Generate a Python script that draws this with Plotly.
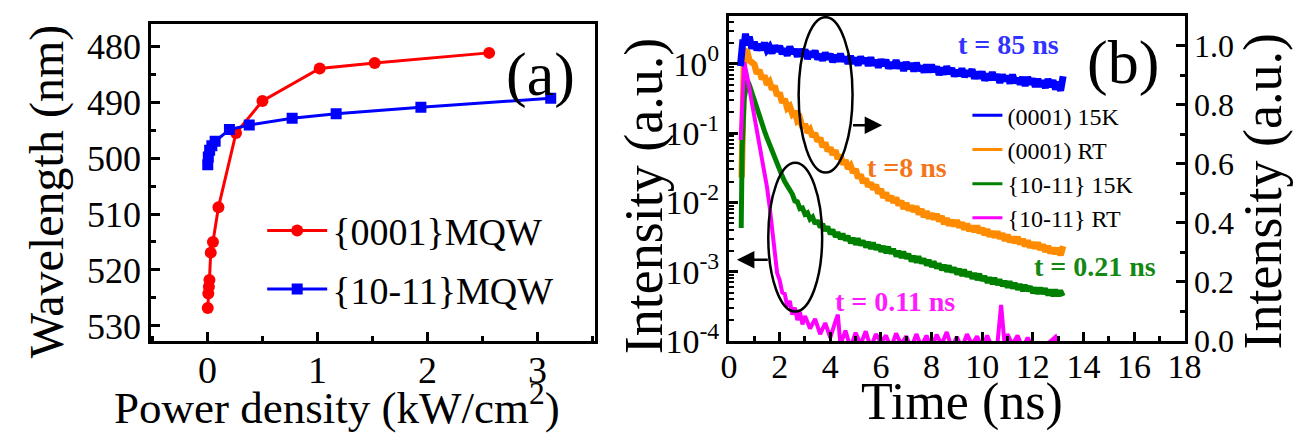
import plotly.graph_objects as go

W, H = 1304, 442

# ---------------- Panel (a): emission wavelength vs power density ----------------
RED_P = [0.003, 0.008, 0.013, 0.018, 0.03, 0.05, 0.1, 0.26, 0.5, 1.02, 1.52, 2.56]
RED_W = [526.8, 524.2, 523.0, 521.8, 516.9, 515.0, 508.8, 495.5, 489.8, 484.0, 483.0, 481.2]
BLUE_P = [0.003, 0.008, 0.02, 0.04, 0.07, 0.2, 0.38, 0.77, 1.17, 1.94, 3.12]
BLUE_W = [501.2, 499.8, 498.6, 497.8, 497.0, 494.9, 494.1, 492.9, 492.1, 490.9, 489.3]

# ---------------- Panel (b): time-resolved PL ----------------
T_GRID = [1.0, 1.1, 1.2, 1.3, 1.4, 1.5, 1.6, 1.7, 1.8, 1.9,
          2.0, 2.1, 2.2, 2.3, 2.4, 2.5, 2.6, 2.7, 2.8, 2.9,
          3.0, 3.1, 3.2, 3.3, 3.4, 3.5, 3.6, 3.7, 3.8, 3.9,
          4.0, 4.1, 4.2, 4.3, 4.4, 4.5, 4.6, 4.7, 4.8, 4.9,
          5.0, 5.1, 5.2, 5.3, 5.4, 5.5, 5.6, 5.7, 5.8, 5.9,
          6.0, 6.1, 6.2, 6.3, 6.4, 6.5, 6.6, 6.7, 6.8, 6.9,
          7.0, 7.1, 7.2, 7.3, 7.4, 7.5, 7.6, 7.7, 7.8, 7.9,
          8.0, 8.1, 8.2, 8.3, 8.4, 8.5, 8.6, 8.7, 8.8, 8.9,
          9.0, 9.1, 9.2, 9.3, 9.4, 9.5, 9.6, 9.7, 9.8, 9.9,
          10.0, 10.1, 10.2, 10.3, 10.4, 10.5, 10.6, 10.7, 10.8, 10.9,
          11.0, 11.1, 11.2, 11.3, 11.4, 11.5, 11.6, 11.7, 11.8, 11.9,
          12.0, 12.1, 12.2, 12.3, 12.4, 12.5, 12.6, 12.7, 12.8, 12.9,
          13.0, 13.1, 13.2]

# (0001) 15K  -> right (linear) axis
C15_T = [0.45, 0.5, 0.55, 0.6, 0.65, 0.7, 0.8, 0.9] + T_GRID
C15_I = [0.93, 0.98, 1.02, 1.00, 1.04, 1.01, 1.03, 0.99,
         1.012, 0.985, 1.003, 0.986, 1.009, 0.985, 0.995, 0.974, 0.999, 0.981,
         0.998, 0.972, 0.989, 0.966, 0.996, 0.974, 0.986, 0.963, 0.987, 0.965,
         0.986, 0.955, 0.978, 0.962, 0.982, 0.954, 0.970, 0.950, 0.975, 0.955,
         0.971, 0.944, 0.967, 0.947, 0.972, 0.947, 0.960, 0.939, 0.964, 0.940,
         0.958, 0.933, 0.962, 0.941, 0.956, 0.932, 0.959, 0.934, 0.949, 0.926,
         0.952, 0.932, 0.951, 0.923, 0.942, 0.924, 0.950, 0.923, 0.941, 0.915,
         0.943, 0.923, 0.939, 0.913, 0.941, 0.916, 0.929, 0.910, 0.934, 0.910,
         0.934, 0.912, 0.928, 0.901, 0.924, 0.903, 0.929, 0.905, 0.923, 0.896,
         0.916, 0.898, 0.922, 0.894, 0.914, 0.898, 0.919, 0.888, 0.910, 0.890,
         0.911, 0.882, 0.903, 0.884, 0.909, 0.885, 0.902, 0.874, 0.901, 0.881,
         0.896, 0.872, 0.901, 0.874, 0.889, 0.869, 0.893, 0.864, 0.893, 0.870,
         0.887, 0.861, 0.886, 0.862, 0.881, 0.857, 0.886, 0.861, 0.882, 0.852,
         0.877, 0.847, 0.896]

# (0001) RT -> left (log) axis
CRT_T = [0.5, 0.55, 0.6, 0.65, 0.7, 0.8, 0.9] + T_GRID
CRT_I = [0.0229, 0.251, 1.66, 1.32, 1.58, 1.12, 1.05,
         0.977, 0.724, 0.813, 0.603, 0.676, 0.501, 0.550, 0.427, 0.479, 0.347,
         0.380, 0.275, 0.309, 0.229, 0.245, 0.191, 0.209, 0.151, 0.162, 0.120,
         0.135, 0.102, 0.112, 0.0891, 0.100, 0.0759, 0.0851, 0.0631, 0.0724, 0.0550,
         0.0617, 0.0490, 0.0562, 0.0427, 0.0479, 0.0355, 0.0407, 0.0309, 0.0339, 0.0269,
         0.0302, 0.0224, 0.0251, 0.0191, 0.0219, 0.0170, 0.0191, 0.0155, 0.0178, 0.0135,
         0.0155, 0.0117, 0.0138, 0.0107, 0.0123, 0.0100, 0.0117, 0.00912, 0.0105, 0.00813,
         0.00977, 0.00776, 0.00891, 0.00741, 0.00871, 0.00676, 0.00794, 0.00617, 0.00741, 0.00589,
         0.00692, 0.00575, 0.00676, 0.00537, 0.00631, 0.00490, 0.00589, 0.00468, 0.00550, 0.00457,
         0.00550, 0.00437, 0.00513, 0.00407, 0.00490, 0.00389, 0.00457, 0.00380, 0.00457, 0.00363,
         0.00427, 0.00339, 0.00407, 0.00324, 0.00380, 0.00316, 0.00380, 0.00302, 0.00355, 0.00282,
         0.00339, 0.00269, 0.00316, 0.00263, 0.00316, 0.00251, 0.00295, 0.00234, 0.00282, 0.00224,
         0.00263, 0.00219, 0.00263, 0.00209, 0.00245, 0.00195, 0.00234, 0.00186, 0.00219, 0.00182,
         0.00219, 0.00174, 0.00234]

# {10-11} 15K -> left (log) axis
S15_T = [0.48, 0.52, 0.6, 0.72, 0.8, 0.9] + T_GRID
S15_I = [0.00427, 0.0631, 0.316, 0.575, 0.501, 0.380,
         0.282, 0.224, 0.174, 0.135, 0.107, 0.0851, 0.0676, 0.0537, 0.0427, 0.0347,
         0.0288, 0.0240, 0.0200, 0.0174, 0.0141, 0.0132, 0.0105, 0.0102, 0.00813, 0.00832,
         0.00676, 0.00708, 0.00575, 0.00617, 0.00490, 0.00550, 0.00437, 0.00490, 0.00389, 0.00447,
         0.00347, 0.00407, 0.00316, 0.00372, 0.00295, 0.00355, 0.00282, 0.00331, 0.00257, 0.00309,
         0.00245, 0.00302, 0.00240, 0.00282, 0.00224, 0.00269, 0.00214, 0.00263, 0.00209, 0.00245,
         0.00195, 0.00234, 0.00186, 0.00229, 0.00182, 0.00214, 0.00166, 0.00200, 0.00158, 0.00195,
         0.00155, 0.00182, 0.00141, 0.00170, 0.00135, 0.00166, 0.00132, 0.00155, 0.00123, 0.00148,
         0.00117, 0.00141, 0.00112, 0.00132, 0.00105, 0.00126, 0.00100, 0.00123, 0.000977, 0.00115,
         0.000912, 0.00110, 0.000871, 0.00107, 0.000851, 0.00100, 0.000794, 0.000955, 0.000759, 0.000933,
         0.000741, 0.000871, 0.000692, 0.000832, 0.000661, 0.000813, 0.000646, 0.000776, 0.000617, 0.000741,
         0.000589, 0.000724, 0.000575, 0.000692, 0.000550, 0.000661, 0.000525, 0.000646, 0.000525, 0.000617,
         0.000490, 0.000589, 0.000479, 0.000589, 0.000479, 0.000575, 0.000457, 0.000550, 0.000447, 0.000550,
         0.000447, 0.000537, 0.000447]

# {10-11} RT -> left (log) axis
SRT_T = [0.46, 0.52, 0.6, 0.7, 0.8, 0.9, 1.0, 1.1, 1.2, 1.3,
         1.4, 1.5, 1.6, 1.7, 1.8, 1.9, 2.0, 2.1, 2.2, 2.3,
         2.4, 2.5, 2.6, 2.7, 2.8, 2.9, 3.0, 3.2, 3.4, 3.6,
         3.8, 4.0, 4.2, 4.3, 4.4, 4.6, 4.8, 5.0, 5.2, 5.4,
         5.6, 5.8, 6.0, 6.2, 6.4, 6.6, 6.8, 7.0, 7.2, 7.4,
         7.6, 7.8, 8.0, 8.2, 8.4, 8.6, 8.8, 9.0, 9.2, 9.4,
         9.6, 9.8, 10.0, 10.2, 10.4, 10.6, 10.75, 10.9, 11.0, 11.2,
         11.4, 11.6, 11.8, 12.0, 12.4, 12.9, 13.1]
SRT_I = [0.0794, 0.355, 1.05, 0.708, 0.447, 0.275, 0.178, 0.117, 0.0759, 0.0479,
         0.0282, 0.0166, 0.00891, 0.00398, 0.00191, 0.000955, 0.000759, 0.000501, 0.000479, 0.000316,
         0.000380, 0.000240, 0.000302, 0.000200, 0.000263, 0.000174, 0.000229, 0.000151, 0.000209, 0.000126,
         0.000182, 0.000112, 0.000191, 0.000240, 0.0000891, 0.000141, 0.0000794, 0.000132, 0.0000891, 0.000138,
         0.0000794, 0.000126, 0.0000955, 0.000120, 0.0000794, 0.000129, 0.0000891, 0.000117, 0.0000794, 0.000126,
         0.0000832, 0.000120, 0.0000794, 0.000123, 0.0000891, 0.000135, 0.0000794, 0.000115, 0.0000794, 0.000126,
         0.0000891, 0.000117, 0.0000794, 0.000120, 0.0000794, 0.0000891, 0.000331, 0.0000794, 0.000126, 0.0000891,
         0.000120, 0.0000794, 0.000112, 0.0000794, 0.0000794, 0.000115, 0.0000794]

LOG_TICKS = [1e-4, 1e-3, 1e-2, 1e-1, 1]
LOG_TICKTEXT = ["10<sup>-4</sup>", "10<sup>-3</sup>", "10<sup>-2</sup>", "10<sup>-1</sup>", "10<sup>0</sup>"]

SERIES_B = [("(0001) 15K", "#0000ff", 7, C15_T, C15_I, "y3"),
            ("(0001) RT", "#ff8c00", 6.5, CRT_T, CRT_I, "y2"),
            ("{10-11} 15K", "#008000", 5, S15_T, S15_I, "y2"),
            ("{10-11} RT", "#ff00ff", 4, SRT_T, SRT_I, "y2")]

FONT = "Liberation Serif, Times New Roman, DejaVu Serif, serif"

fig = go.Figure()
fig.add_trace(go.Scatter(x=RED_P, y=RED_W, mode="lines+markers", name="{0001}MQW",
                         line=dict(color="#ff0000", width=3),
                         marker=dict(symbol="circle", size=12, color="#ff0000"),
                         xaxis="x", yaxis="y", legend="legend", legendgroup="a1"))
fig.add_trace(go.Scatter(x=BLUE_P, y=BLUE_W, mode="lines+markers", name="{10-11}MQW",
                         line=dict(color="#0000ff", width=3),
                         marker=dict(symbol="square", size=11, color="#0000ff"),
                         xaxis="x", yaxis="y", legend="legend", legendgroup="a2"))

# noisy decay traces (thick lines); legend shown through thin-line legend entries
for name, col, lw, tx, iy, yax in SERIES_B:
    fig.add_trace(go.Scatter(x=tx, y=iy, mode="lines", name=name, showlegend=False,
                             line=dict(color=col, width=lw), xaxis="x2", yaxis=yax))
for name, col, lw, tx, iy, yax in SERIES_B:
    fig.add_trace(go.Scatter(x=[None], y=[None], mode="lines", name=name, showlegend=True,
                             line=dict(color=col, width=3), xaxis="x2", yaxis=yax, legend="legend2"))

AX = dict(showline=True, linecolor="black", linewidth=3, ticks="inside", ticklen=9, tickwidth=3,
          tickcolor="black", showgrid=False, zeroline=False)


def minor(d):
    return dict(ticks="inside", ticklen=5, tickwidth=3, tickcolor="black", dtick=d, showgrid=False)


def tf(size):
    return dict(family=FONT, size=size, color="black")


fig.update_layout(
    width=W, height=H, margin=dict(l=0, r=0, t=0, b=0),
    paper_bgcolor="white", plot_bgcolor="white",
    font=dict(family=FONT, color="black"),
    xaxis=dict(AX, domain=[0.1058, 0.4525], anchor="y", range=[-0.51, 3.52], tick0=0, dtick=1,
               mirror=True, minor=dict(minor(0.5), tick0=0), tickfont=tf(38),
               ticklabelstandoff=-7),
    yaxis=dict(AX, domain=[0.2127, 0.9627], anchor="x", range=[532.7, 476.0], tick0=480, dtick=10,
               mirror=True, minor=dict(minor(5), tick0=480), tickfont=tf(36)),
    xaxis2=dict(AX, domain=[0.5575, 0.9137], anchor="y2", range=[0, 18], tick0=0, dtick=2,
                mirror=True, minor=dict(minor(1), tick0=0), tickfont=tf(34),
                ticklabelstandoff=-7),
    yaxis2=dict(AX, domain=[0.2127, 0.9812], anchor="x2", type="log", range=[-4, 0.69],
                tickvals=LOG_TICKS, ticktext=LOG_TICKTEXT, tickfont=tf(34),
                minor=dict(ticks="inside", ticklen=5, tickwidth=2, tickcolor="black", dtick="D1", showgrid=False)),
    yaxis3=dict(AX, overlaying="y2", side="right", anchor="x2", range=[0, 1.1], tick0=0, dtick=0.2,
                tickformat=".1f", minor=dict(minor(0.1), tick0=0), tickfont=tf(32)),
    legend=dict(x=251 / W, y=1 - 200 / H, xanchor="left", yanchor="top", bgcolor="rgba(0,0,0,0)",
                font=tf(38), tracegroupgap=6, itemwidth=60),
    legend2=dict(x=970 / W, y=1 - 89 / H, xanchor="left", yanchor="top", bgcolor="rgba(0,0,0,0)",
                 font=tf(24), tracegroupgap=0),
    showlegend=True,
)

# Axis titles (placed as text at the reference positions)
TITLES = [("Power density (kW/cm<sup>2</sup>)", 327, 414, 0, 45),
          ("Wavelength (nm)", 31, 192, -90, 48),
          ("Time (ns)", 965, 412, 0, 52),
          ("Intensity (a.u.)", 640, 197, -90, 54),
          ("Intensity (a.u.)", 1271, 192, -90, 54)]
for txt, px, py, ang, fs in TITLES:
    fig.add_annotation(text=txt, x=px / W, y=1 - py / H, xref="paper", yref="paper", showarrow=False,
                       xanchor="center", yanchor="middle", textangle=ang, font=tf(fs), borderpad=0)

# Ellipses marking the curves belonging to each axis, with arrows
fig.add_shape(type="circle", xref="x2", yref="y3", x0=2.75, x1=4.88, y0=0.57, y1=1.096,
              line=dict(color="black", width=2.5))
fig.add_shape(type="circle", xref="x2", yref="y3", x0=1.55, x1=3.68, y0=0.10, y1=0.603,
              line=dict(color="black", width=2.5))
fig.add_annotation(x=6.05, y=0.73, ax=4.84, ay=0.73, xref="x2", yref="y3", axref="x2", ayref="y3",
                   text="", showarrow=True, arrowhead=2, arrowsize=1.4, arrowwidth=2.5, arrowcolor="black")
fig.add_annotation(x=0.31, y=0.275, ax=1.59, ay=0.275, xref="x2", yref="y3", axref="x2", ayref="y3",
                   text="", showarrow=True, arrowhead=2, arrowsize=1.4, arrowwidth=2.5, arrowcolor="black")

# Panel labels
fig.add_annotation(text="(a)", x=535 / W, y=1 - 70 / H, xref="paper", yref="paper", showarrow=False,
                   xanchor="center", yanchor="middle", font=tf(62))
fig.add_annotation(text="(b)", x=1129 / W, y=1 - 57 / H, xref="paper", yref="paper", showarrow=False,
                   xanchor="center", yanchor="middle", font=tf(62))

# Lifetime labels
LABELS = [("t = 85 ns", 1012, 38, "#3333ff"),
          ("t =8 ns", 908, 167, "#f5761a"),
          ("t = 0.21 ns", 1100, 270, "#138813"),
          ("t = 0.11 ns", 896, 307, "#ff1aff")]
for txt, px, py, col in LABELS:
    fig.add_annotation(text="<b>" + txt + "</b>", x=px / W, y=1 - py / H, xref="paper", yref="paper",
                       showarrow=False, xanchor="center", yanchor="middle",
                       font=dict(family=FONT, size=28, color=col))

fig.write_html("out.html")
